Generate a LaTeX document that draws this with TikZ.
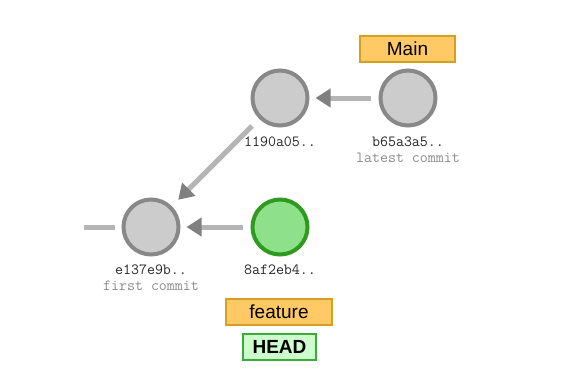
\documentclass[tikz,border=0pt]{standalone}
\usepackage{fontspec}
\setmainfont{Liberation Sans}
\usetikzlibrary{arrows.meta}
\definecolor{cfill}{HTML}{CCCCCC}
\definecolor{cdraw}{HTML}{888888}
\definecolor{gfill}{HTML}{8EE08A}
\definecolor{gdraw}{HTML}{2E9A1E}
\definecolor{bfill}{HTML}{FFC966}
\definecolor{bdraw}{HTML}{D4A020}
\definecolor{hfill}{HTML}{CCFFCC}
\definecolor{hdraw}{HTML}{3AAA3A}
\definecolor{lcol}{HTML}{B5B5B5}
\definecolor{acol}{HTML}{808080}
\definecolor{subcol}{HTML}{8A8A8A}
\tikzset{
  commit/.style={circle, minimum size=55pt, inner sep=0pt, line width=4pt, draw=cdraw, fill=cfill},
  headcommit/.style={commit, draw=gdraw, fill=gfill},
  hashlbl/.style={font=\ttfamily\fontsize{15.5}{17}\selectfont, text=black!85, inner sep=0pt},
  sublbl/.style={font=\ttfamily\fontsize{15.5}{17}\selectfont, text=subcol, inner sep=0pt},
  branch/.style={draw=bdraw, fill=bfill, line width=2pt, inner sep=0pt, minimum height=26pt, font=\fontsize{19}{21}\selectfont},
  headbox/.style={draw=hdraw, fill=hfill, line width=2pt, inner sep=0pt, minimum height=26pt, font=\bfseries\fontsize{19}{21}\selectfont},
  parent/.style={draw=lcol, line width=5pt, -{Triangle[length=15pt,width=18pt,color=acol]}, shorten <=8pt, shorten >=6pt},
}
\begin{document}
\begin{tikzpicture}[x=1pt,y=-1pt]
\useasboundingbox (0,0) rectangle (575,391);
\node[commit] (c1) at (280,98) {};
\node[commit] (c2) at (408,98) {};
\node[commit] (c0) at (151,227) {};
\node[headcommit] (c3) at (280,227) {};
\coordinate (stub) at (84,227);
\node[hashlbl] (l1) at (280,142) {1190a05..};
\node[hashlbl] (l2) at (408,142) {b65a3a5..};
\node[sublbl] (s2) at (408,158) {latest commit};
\node[hashlbl] (l0) at (151,270) {e137e9b..};
\node[sublbl] (s0) at (151,286) {first commit};
\node[hashlbl] (l3) at (280,270) {8af2eb4..};
\node[branch, minimum width=95pt] (main) at (407.5,49) {Main};
\node[branch, minimum width=106pt] (feature) at (279,311.5) {feature};
\node[headbox, minimum width=73pt] (head) at (279.5,347) {HEAD};
\draw[parent] (c2) -- (c1);
\draw[parent, shorten <=10pt, shorten >=9pt] (c1) -- (c0);
\draw[parent] (c3) -- (c0);
\draw[draw=lcol, line width=5pt, shorten >=7pt] (stub) -- (c0);
\end{tikzpicture}
\end{document}
